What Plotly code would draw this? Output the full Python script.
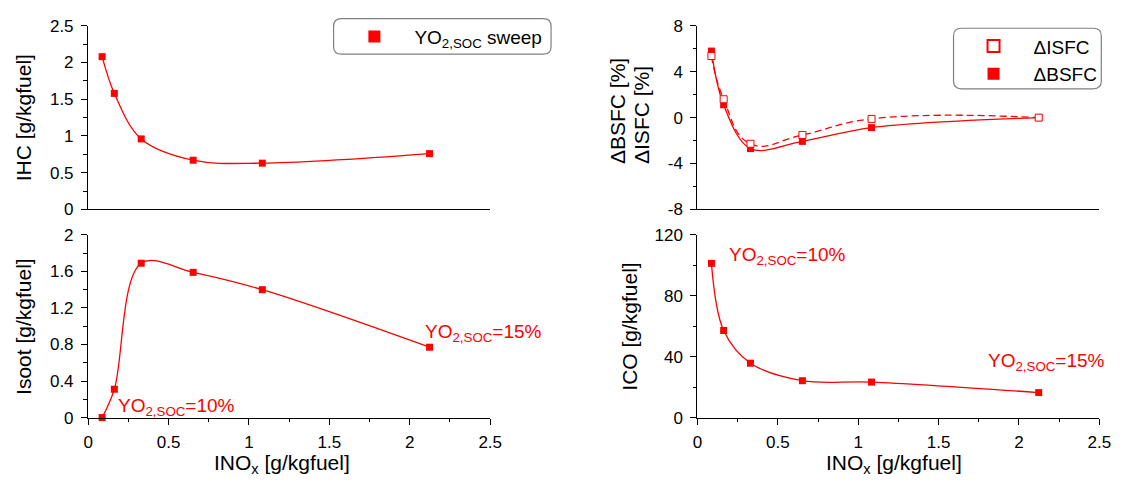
import plotly.graph_objects as go

# ---------------- data ----------------
inox = [0.087, 0.163, 0.330, 0.653, 1.083, 2.123]
ihc = [2.08, 1.58, 0.96, 0.67, 0.63, 0.76]
isoot = [0.0, 0.31, 1.69, 1.59, 1.40, 0.77]
ico = [101.3, 57.2, 35.7, 24.2, 23.3, 16.4]
dbsfc = [5.8, 1.12, -2.7, -2.07, -0.87, 0.0]
disfc = [5.37, 1.6, -2.28, -1.51, -0.11, 0.0]

x_tickvals = [0, 0.5, 1, 1.5, 2, 2.5]
x_ticktext = ["0", "0.5", "1", "1.5", "2", "2.5"]
ihc_tickvals = [0, 0.5, 1, 1.5, 2, 2.5]
ihc_ticktext = ["0", "0.5", "1", "1.5", "2", "2.5"]
sfc_tickvals = [-8, -4, 0, 4, 8]
sfc_ticktext = ["-8", "-4", "0", "4", "8"]
isoot_tickvals = [0, 0.4, 0.8, 1.2, 1.6, 2]
isoot_ticktext = ["0", "0.4", "0.8", "1.2", "1.6", "2"]
ico_tickvals = [0, 40, 80, 120]
ico_ticktext = ["0", "40", "80", "120"]

# ---------------- layout helpers ----------------
W, H = 1132, 491
FONT = "Arial, 'Liberation Sans', Helvetica, sans-serif"
RED = "#ff0000"


def fx(p):
    return p / W


def fy(p):
    return 1 - p / H


LEFT = (84.4, 492.6)
RIGHT = (703.0, 1111.0)
TOP = (17.5, 208.5)
BOT = (235.0, 425.0)

fig = go.Figure()

line_style = dict(shape="spline", smoothing=1.0, color=RED, width=1.3)
mk = dict(symbol="square", size=7, color=RED, line=dict(width=0))
mk_open = dict(symbol="square", size=7, color="white", line=dict(color=RED, width=1))

# top-left: IHC
fig.add_trace(go.Scatter(x=inox, y=ihc, mode="lines", line=line_style,
                         xaxis="x", yaxis="y", showlegend=False, hoverinfo="skip"))
fig.add_trace(go.Scatter(x=inox, y=ihc, mode="markers", marker=mk, cliponaxis=False,
                         xaxis="x", yaxis="y", name="YO<sub>2,SOC</sub> sweep",
                         legend="legend", showlegend=True))

# top-right: dBSFC / dISFC
fig.add_trace(go.Scatter(x=inox, y=dbsfc, mode="lines", line=line_style,
                         xaxis="x2", yaxis="y2", showlegend=False, hoverinfo="skip"))
fig.add_trace(go.Scatter(x=inox, y=disfc, mode="lines",
                         line=dict(line_style, dash="7px,4px", smoothing=1.3),
                         xaxis="x2", yaxis="y2", showlegend=False, hoverinfo="skip"))
fig.add_trace(go.Scatter(x=inox, y=dbsfc, mode="markers", marker=mk, cliponaxis=False,
                         xaxis="x2", yaxis="y2", name="ΔBSFC",
                         legend="legend2", legendrank=2, showlegend=True))
fig.add_trace(go.Scatter(x=inox, y=disfc, mode="markers", marker=mk_open, cliponaxis=False,
                         xaxis="x2", yaxis="y2", name="ΔISFC",
                         legend="legend2", legendrank=1, showlegend=True))

# bottom-left: Isoot
fig.add_trace(go.Scatter(x=inox, y=isoot, mode="lines", line=line_style,
                         xaxis="x3", yaxis="y3", showlegend=False, hoverinfo="skip"))
fig.add_trace(go.Scatter(x=inox, y=isoot, mode="markers", marker=mk, cliponaxis=False,
                         xaxis="x3", yaxis="y3", showlegend=False))

# bottom-right: ICO
fig.add_trace(go.Scatter(x=inox, y=ico, mode="lines", line=line_style,
                         xaxis="x4", yaxis="y4", showlegend=False, hoverinfo="skip"))
fig.add_trace(go.Scatter(x=inox, y=ico, mode="markers", marker=mk, cliponaxis=False,
                         xaxis="x4", yaxis="y4", showlegend=False))

common = dict(showline=True, linecolor="black", linewidth=1.3, showgrid=False,
              zeroline=False, tickfont=dict(size=17, color="black", family=FONT),
              fixedrange=True)


def xaxis_cfg(dom, anchor, labels):
    d = dict(common, domain=[fx(dom[0]), fx(dom[1])], anchor=anchor, range=[0, 2.5])
    if labels:
        d.update(ticks="outside", ticklen=6, tickwidth=1.3, tickcolor="black",
                 tickmode="array", tickvals=x_tickvals, ticktext=x_ticktext,
                 ticklabelstandoff=3,
                 minor=dict(ticks="outside", ticklen=3.5, tickwidth=1.3, tickcolor="black",
                            tickmode="linear", tick0=0, dtick=0.25, showgrid=False))
    else:
        d.update(ticks="", showticklabels=False)
    return d


def yaxis_cfg(dom, anchor, rng, vals, texts, minor_dt):
    return dict(common, domain=[fy(dom[1]), fy(dom[0])], anchor=anchor, range=rng,
                ticks="outside", ticklen=6, tickwidth=1.3, tickcolor="black",
                tickmode="array", tickvals=vals, ticktext=texts, ticklabelstandoff=4,
                minor=dict(ticks="outside", ticklen=3.5, tickwidth=1.3, tickcolor="black",
                           tickmode="linear", tick0=0, dtick=minor_dt, showgrid=False))


def rounded_rect(x0, y0, x1, y1, r=8):
    # pixel coords (top-left origin) -> paper path
    X = fx
    Y = fy
    return (f"M {X(x0 + r)} {Y(y0)} L {X(x1 - r)} {Y(y0)} Q {X(x1)} {Y(y0)} {X(x1)} {Y(y0 + r)} "
            f"L {X(x1)} {Y(y1 - r)} Q {X(x1)} {Y(y1)} {X(x1 - r)} {Y(y1)} "
            f"L {X(x0 + r)} {Y(y1)} Q {X(x0)} {Y(y1)} {X(x0)} {Y(y1 - r)} "
            f"L {X(x0)} {Y(y0 + r)} Q {X(x0)} {Y(y0)} {X(x0 + r)} {Y(y0)} Z")


title_font = dict(size=21, color="black", family=FONT)
annot_font = dict(size=19, color=RED, family=FONT)

annotations = [
    # y titles
    dict(text="IHC [g/kgfuel]", x=fx(19), y=fy((TOP[0] + TOP[1]) / 2), textangle=-90),
    dict(text="Isoot [g/kgfuel]", x=fx(19), y=fy((BOT[0] + BOT[1]) / 2), textangle=-90),
    dict(text="ICO [g/kgfuel]", x=fx(634), y=fy((BOT[0] + BOT[1]) / 2), textangle=-90),
    dict(text="ΔBSFC [%]", x=fx(621.7), y=fy(163), textangle=-90, yanchor="bottom"),
    dict(text="ΔISFC [%]", x=fx(646), y=fy(163), textangle=-90, yanchor="bottom"),
    # x titles
    dict(text="INO<sub>x</sub> [g/kgfuel]", x=fx(281.3), y=fy(473)),
    dict(text="INO<sub>x</sub> [g/kgfuel]", x=fx(902.3), y=fy(473)),
]
for a in annotations:
    a.update(xref="paper", yref="paper", showarrow=False, font=title_font)
    a.setdefault("xanchor", "center")
    a.setdefault("yanchor", "middle")

labels = [
    dict(text="YO<sub>2,SOC</sub>=10%", x=0.176, y=0.119, xref="x3", yref="y3"),
    dict(text="YO<sub>2,SOC</sub>=15%", x=2.083, y=0.921, xref="x3", yref="y3"),
    dict(text="YO<sub>2,SOC</sub>=10%", x=0.182, y=106.1, xref="x4", yref="y4"),
    dict(text="YO<sub>2,SOC</sub>=15%", x=1.796, y=36.6, xref="x4", yref="y4"),
]
for a in labels:
    a.update(showarrow=False, font=annot_font, xanchor="left", yanchor="middle")

shapes = [
    dict(type="path", xref="paper", yref="paper", path=rounded_rect(333.6, 10, 554.4, 47),
         line=dict(color="#808080", width=1.2), fillcolor="rgba(0,0,0,0)", layer="below"),
    dict(type="path", xref="paper", yref="paper", path=rounded_rect(963, 20, 1113, 83),
         line=dict(color="#808080", width=1.2), fillcolor="rgba(0,0,0,0)", layer="below"),
]

legend_common = dict(bgcolor="rgba(0,0,0,0)", borderwidth=0, itemsizing="constant",
                     font=dict(size=19, color="black", family=FONT), itemwidth=70,
                     xanchor="left", yanchor="top", traceorder="normal",
                     itemclick=False, itemdoubleclick=False)

fig.update_layout(
    width=W, height=H,
    margin=dict(l=0, r=0, t=0, b=0),
    paper_bgcolor="white", plot_bgcolor="white",
    font=dict(family=FONT, color="black"),
    xaxis=xaxis_cfg(LEFT, "y", False),
    yaxis=yaxis_cfg(TOP, "x", [0, 2.5], ihc_tickvals, ihc_ticktext, 0.25),
    xaxis2=xaxis_cfg(RIGHT, "y2", False),
    yaxis2=yaxis_cfg(TOP, "x2", [-8, 8], sfc_tickvals, sfc_ticktext, 2),
    xaxis3=xaxis_cfg(LEFT, "y3", True),
    yaxis3=yaxis_cfg(BOT, "x3", [0, 2], isoot_tickvals, isoot_ticktext, 0.2),
    xaxis4=xaxis_cfg(RIGHT, "y4", True),
    yaxis4=yaxis_cfg(BOT, "x4", [0, 120], ico_tickvals, ico_ticktext, 20),
    legend=dict(legend_common, x=fx(334.4), y=fy(9)),
    legend2=dict(legend_common, x=fx(963), y=fy(19)),
    annotations=annotations + labels,
    shapes=shapes,
)

fig.write_html("out.html", config={"displayModeBar": False})
